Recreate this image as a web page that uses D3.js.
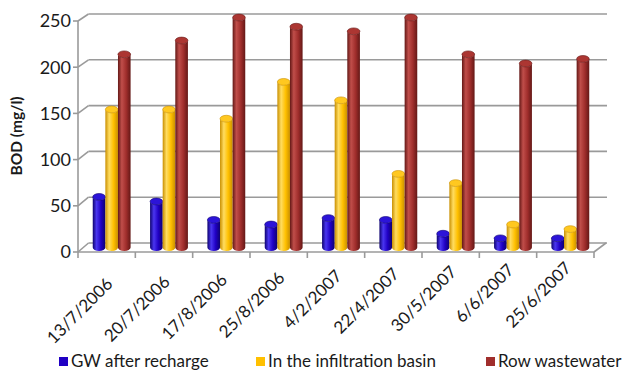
<!DOCTYPE html>
<html>
<head>
<meta charset="utf-8">
<script src="https://cdn.jsdelivr.net/npm/d3@7/dist/d3.min.js"></script>
<style>
  html, body { margin: 0; padding: 0; background: #fff; }
  svg { display: block; font-family: Lato, "Open Sans", sans-serif; }
</style>
</head>
<body>
<svg id="chart" width="623" height="374"></svg>
<script>
// Sampling dates
const categories = ["13/7/2006", "20/7/2006", "17/8/2006", "25/8/2006", "4/2/2007",
                    "22/4/2007", "30/5/2007", "6/6/2007", "25/6/2007"];
// BOD (mg/l) per series
const gwAfterRecharge   = [55, 50, 30, 25, 32, 30, 15, 10, 10];
const infiltrationBasin = [150, 150, 140, 180, 160, 80, 70, 25, 20];
const rowWastewater     = [210, 225, 250, 240, 235, 250, 210, 200, 205];
const seriesNames = ["GW after recharge", "In the infiltration basin", "Row wastewater"];
const yTicks = [0, 50, 100, 150, 200, 250];

const series = [
  { name: seriesNames[0], values: gwAfterRecharge,   base: "#2000c4", dark: "#0e0270", light: "#4a36f0", top: "#2c14d8" },
  { name: seriesNames[1], values: infiltrationBasin, base: "#ffc000", dark: "#c98f00", light: "#ffdc60", top: "#ffc820" },
  { name: seriesNames[2], values: rowWastewater,     base: "#a02e2c", dark: "#641816", light: "#c04e4a", top: "#ac3632" }
];

const svg = d3.select("#chart");
const defs = svg.append("defs");

// Front face, back wall and the mid-depth plane the cylinders stand in
const frontLeft = 78, frontRight = 594, depthX = 10.5;
const yFront = d3.scaleLinear().domain([0, 250]).range([252, 21]);
const yBack  = d3.scaleLinear().domain([0, 250]).range([243, 14]);
const yMid   = d3.scaleLinear().domain([0, 250]).range([247.5, 17.5]);

const x = d3.scaleBand().domain(categories).range([frontLeft, frontRight]).padding(0);
const bw = x.bandwidth();
const xInner = d3.scaleBand().domain(seriesNames).range([bw * 0.17, bw * 0.83]).padding(0);
const midShift = 5;

const grid = svg.append("g").attr("stroke", "#9a9a9a").attr("stroke-width", 1.6).attr("fill", "none");

// Back wall gridlines with the short connectors to the front axis
yTicks.forEach(t => {
  grid.append("line")
    .attr("x1", frontLeft + depthX).attr("x2", 607)
    .attr("y1", yBack(t)).attr("y2", yBack(t));
  grid.append("line")
    .attr("x1", frontLeft).attr("y1", yFront(t))
    .attr("x2", frontLeft + depthX).attr("y2", yBack(t));
});

// Floor: front edge and right-hand edge
grid.append("line").attr("x1", frontLeft).attr("x2", frontRight)
  .attr("y1", yFront(0)).attr("y2", yFront(0));
grid.append("line").attr("x1", frontRight).attr("y1", yFront(0))
  .attr("x2", 606).attr("y2", yBack(0));

// Front vertical axis with tick stubs
grid.append("line").attr("x1", frontLeft).attr("x2", frontLeft)
  .attr("y1", yFront(0)).attr("y2", yFront(250));
yTicks.forEach(t => {
  grid.append("line").attr("x1", frontLeft - 5).attr("x2", frontLeft)
    .attr("y1", yFront(t)).attr("y2", yFront(t));
});

// Category tick marks along the front edge
const boundaries = categories.map(c => x(c)).concat([frontRight]);
boundaries.forEach(bx => {
  grid.append("line").attr("x1", bx).attr("x2", bx)
    .attr("y1", yFront(0)).attr("y2", yFront(0) + 6);
});

// Y tick labels
svg.append("g").selectAll("text").data(yTicks).join("text")
  .attr("x", frontLeft - 7).attr("y", d => yFront(d))
  .attr("dy", "0.36em").attr("text-anchor", "end")
  .attr("font-size", 18).attr("fill", "#1a1a1a")
  .text(d => d);

// Y axis title
svg.append("text")
  .attr("transform", "translate(22,136) rotate(-90)")
  .attr("text-anchor", "middle").attr("font-size", 15.5).attr("font-weight", "bold")
  .attr("fill", "#1a1a1a")
  .text("BOD (mg/l)");

// X tick labels, rotated
svg.append("g").selectAll("text").data(categories).join("text")
  .attr("transform", (d, i) => `translate(${x(d) + bw / 2 + 7},${285 - i * 2}) rotate(-45)`)
  .attr("text-anchor", "end").attr("font-size", 17).attr("fill", "#1a1a1a")
  .text(d => d);

// Cylinder shading gradients
series.forEach((s, i) => {
  const g = defs.append("linearGradient").attr("id", "cyl" + i)
    .attr("x1", "0%").attr("x2", "100%").attr("y1", "0%").attr("y2", "0%");
  g.append("stop").attr("offset", "0%").attr("stop-color", s.dark);
  g.append("stop").attr("offset", "30%").attr("stop-color", s.light);
  g.append("stop").attr("offset", "65%").attr("stop-color", s.base);
  g.append("stop").attr("offset", "100%").attr("stop-color", s.dark);
});

// Cylinders
const ry = 3.4;
const bars = svg.append("g");
categories.forEach((c, ci) => {
  series.forEach((s, si) => {
    const w = xInner.bandwidth();
    const x0 = x(c) + midShift + xInner(s.name);
    const x1 = x0 + w;
    const rx = w / 2;
    const yT = yMid(s.values[ci]);
    const yB = yMid(0);
    bars.append("path")
      .attr("d", `M${x0},${yT} L${x0},${yB} A${rx},${ry} 0 0 0 ${x1},${yB} L${x1},${yT} A${rx},${ry} 0 0 1 ${x0},${yT} Z`)
      .attr("fill", `url(#cyl${si})`);
    bars.append("ellipse")
      .attr("cx", x0 + rx).attr("cy", yT).attr("rx", rx).attr("ry", ry)
      .attr("fill", s.top).attr("stroke", s.dark).attr("stroke-width", 0.6);
  });
});

// Legend
const legendPos = [59, 256, 486];
const legend = svg.append("g");
series.forEach((s, i) => {
  legend.append("rect").attr("x", legendPos[i]).attr("y", 357)
    .attr("width", 9).attr("height", 9).attr("fill", s.base);
  legend.append("text").attr("x", legendPos[i] + 12).attr("y", 367)
    .attr("font-size", 17).attr("fill", "#1a1a1a").text(s.name);
});
</script>
</body>
</html>
